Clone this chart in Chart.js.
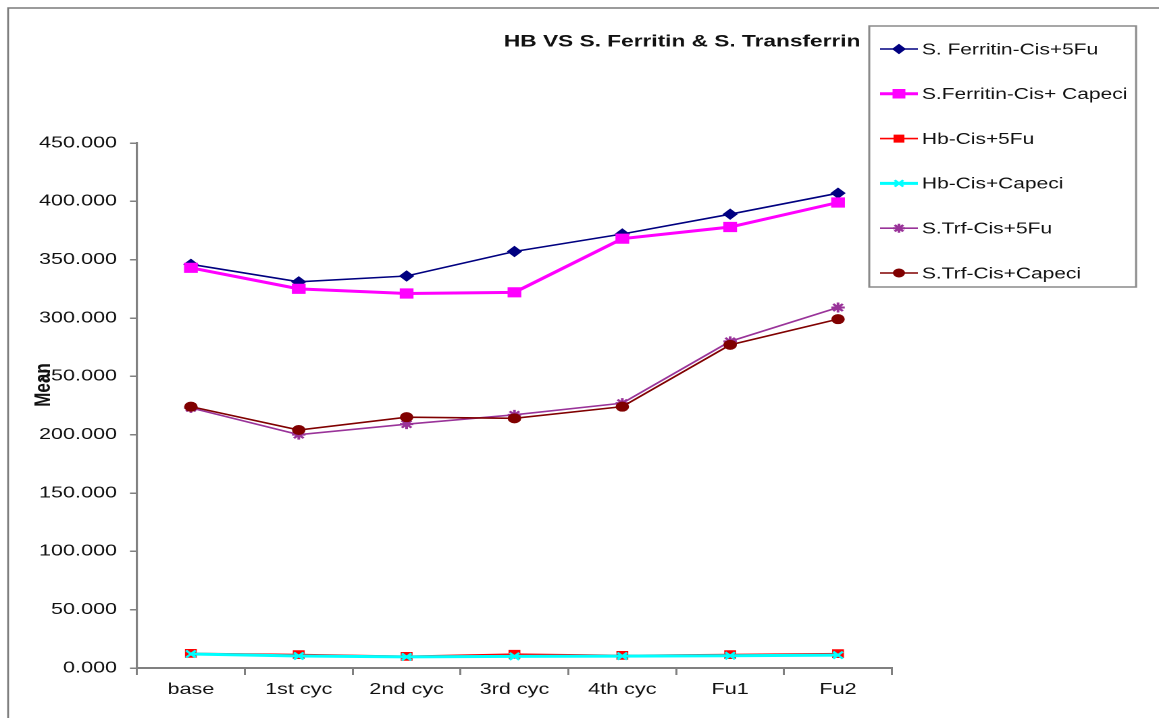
<!DOCTYPE html>
<html lang="en">
<head>
<meta charset="UTF-8">
<title>HB VS S. Ferritin & S. Transferrin</title>
<script src="https://cdn.jsdelivr.net/npm/chart.js"></script>
<style>
  html, body { margin: 0; padding: 0; background: #fff; overflow: hidden; }
  /* the source picture is stretched sideways, so the whole chart is too */
  #wrap { width: 858px; height: 718px; transform: scaleX(1.3508); transform-origin: 0 0; }
</style>
</head>
<body>
<div id="wrap"><canvas id="chart" width="858" height="718"></canvas></div>

<script>
    const categories = ['base', '1st cyc', '2nd cyc', '3rd cyc', '4th cyc', 'Fu1', 'Fu2'];

    const ferritin5Fu    = [346, 331, 336, 357, 372, 389, 407];
    const ferritinCapeci = [343, 325, 321, 322, 368, 378, 399];
    const hb5Fu          = [12.5, 11.5, 10.0, 11.8, 10.8, 11.5, 12.3];
    const hbCapeci       = [12.0, 10.3, 9.5, 10.0, 10.2, 10.5, 11.0];
    const trf5Fu         = [223, 200, 209, 217, 227, 280, 309];
    const trfCapeci      = [224, 204, 215, 214, 224, 277, 299];

    const seriesNames = ['S. Ferritin-Cis+5Fu', 'S.Ferritin-Cis+ Capeci', 'Hb-Cis+5Fu', 'Hb-Cis+Capeci', 'S.Trf-Cis+5Fu', 'S.Trf-Cis+Capeci'];
    const yTicks = [0, 50, 100, 150, 200, 250, 300, 350, 400, 450];

    const FONT = "'Liberation Sans', Arial, sans-serif";

    const styles = [
        { color: '#000080', width: 1.6, point: 'rectRot', r: 5 },
        { color: '#FF00FF', width: 3,   point: 'rect',    r: 6.5 },
        { color: '#FF0000', width: 1.6, point: 'rect',    r: 5.5 },
        { color: '#00FFFF', width: 3,   point: 'crossRot', r: 5 },
        { color: '#993399', width: 1.6, point: 'star',    r: 5 },
        { color: '#800000', width: 1.6, point: 'circle',  r: 4.5 }
    ];
    const values = [ferritin5Fu, ferritinCapeci, hb5Fu, hbCapeci, trf5Fu, trfCapeci];

    const datasets = seriesNames.map((name, i) => ({
        label: name,
        data: values[i],
        borderColor: styles[i].color,
        backgroundColor: styles[i].color,
        borderWidth: styles[i].width,
        pointStyle: styles[i].point,
        pointRadius: styles[i].r,
        pointBorderWidth: styles[i].point.startsWith('cross') || styles[i].point === 'star' ? 2 : 1,
        pointBorderColor: styles[i].color,
        pointBackgroundColor: styles[i].color,
        tension: 0,
        order: seriesNames.length - i   // later series on top, like the original
    }));

    // frame, title, axis title and the boxed legend
    const extras = {
        id: 'extras',
        afterDraw(chart) {
            const ctx = chart.ctx;
            ctx.save();

            ctx.strokeStyle = '#7a7a7a';
            ctx.lineWidth = 1.4;
            ctx.beginPath();
            ctx.moveTo(6, 718);
            ctx.lineTo(6, 8);
            ctx.lineTo(858, 8);
            ctx.stroke();

            ctx.fillStyle = '#111';
            ctx.font = 'bold 16.8px ' + FONT;
            ctx.textAlign = 'center';
            ctx.textBaseline = 'middle';
            ctx.fillText('HB VS S. Ferritin & S. Transferrin', 505, 42);

            ctx.save();
            ctx.translate(32.5, 385);
            ctx.rotate(-Math.PI / 2);
            ctx.font = 'bold 17px ' + FONT;
            ctx.fillText('Mean', 0, 0);
            ctx.restore();

            // legend box
            ctx.strokeStyle = '#8a8a8a';
            ctx.lineWidth = 1.5;
            ctx.strokeRect(643.5, 26, 197.5, 261);
            ctx.textAlign = 'left';
            ctx.font = '15.5px ' + FONT;
            chart.data.datasets.forEach((ds, i) => {
                const y = 49 + i * 44.8;
                ctx.strokeStyle = ds.borderColor;
                ctx.lineWidth = ds.borderWidth;
                ctx.beginPath();
                ctx.moveTo(651.5, y);
                ctx.lineTo(679.5, y);
                ctx.stroke();
                ctx.fillStyle = ds.pointBackgroundColor;
                ctx.strokeStyle = ds.pointBorderColor;
                ctx.lineWidth = ds.pointBorderWidth;
                if (Chart.helpers && Chart.helpers.drawPoint) {
                    Chart.helpers.drawPoint(ctx, { pointStyle: ds.pointStyle, radius: ds.pointRadius - 0.5, rotation: 0, borderWidth: ds.pointBorderWidth }, 665.5, y);
                }
                ctx.fillStyle = '#111';
                ctx.fillText(ds.label, 682.5, y + 1);
            });
            ctx.restore();
        }
    };

    new Chart(document.getElementById('chart'), {
        type: 'line',
        data: { labels: categories, datasets: datasets },
        options: {
            responsive: false,
            devicePixelRatio: 2,
            animation: false,
            layout: { padding: { left: 0, top: 143, right: 197.7, bottom: 0 } },
            plugins: { legend: { display: false }, tooltip: { enabled: false } },
            scales: {
                x: {
                    offset: true,
                    grid: { offset: true, drawOnChartArea: false, drawTicks: true, tickLength: 7, color: '#808080', lineWidth: 1.5 },
                    border: { color: '#808080', width: 2 },
                    ticks: { color: '#111', font: { family: FONT, size: 16 }, padding: 5, maxRotation: 0, autoSkip: false },
                    afterFit(scale) { scale.height = 50; }
                },
                y: {
                    min: 0,
                    max: 450,
                    afterBuildTicks(scale) { scale.ticks = yTicks.map(v => ({ value: v })); },
                    grid: { drawOnChartArea: false, drawTicks: true, tickLength: 5.2, color: '#808080', lineWidth: 1.5 },
                    border: { color: '#808080', width: 1.6 },
                    ticks: {
                        color: '#111',
                        font: { family: FONT, size: 16 },
                        padding: 9.5,
                        callback: v => Number(v).toFixed(3)
                    },
                    afterFit(scale) { scale.width = 101.4; }
                }
            }
        },
        plugins: [extras]
    });
</script>
</body>
</html>
